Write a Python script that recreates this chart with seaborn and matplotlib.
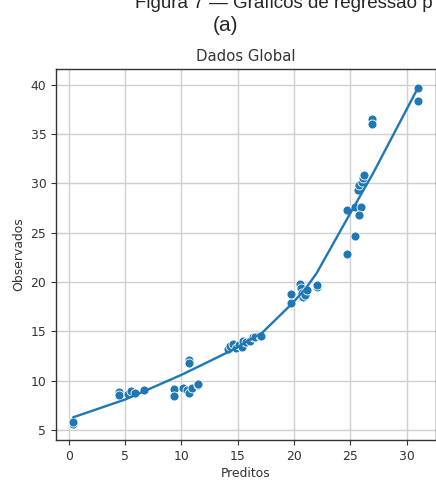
import matplotlib
matplotlib.use("Agg")
import pandas as pd
import seaborn as sns
from matplotlib import pyplot as plt

# scatter points
preditos = [
    0.4, 0.4,
    4.5, 4.5, 5.3, 5.5, 5.9, 6.7,
    9.3, 9.3, 10.1, 10.5, 10.7, 10.9, 10.7, 10.7, 11.5, 11.5,
    14.1, 14.3, 14.6, 14.85, 15.1, 15.4, 15.5, 15.7, 16.1, 16.4, 16.5, 17.0, 17.1,
    19.7, 19.7, 20.5, 20.6, 20.7, 20.8, 20.9, 21.0, 21.15, 22.0, 22.0,
    24.7, 25.4, 24.7, 25.4, 25.9, 25.8, 25.7, 25.8, 26.0, 26.1, 26.2,
    26.9, 26.9, 31.0, 31.0,
]
observados = [
    5.6, 5.8,
    8.9, 8.6, 8.7, 9.0, 8.8, 9.1,
    9.2, 8.5, 9.3, 9.1, 8.8, 9.3, 12.1, 11.8, 9.6, 9.7,
    13.2, 13.5, 13.7, 13.3, 13.6, 13.4, 14.0, 13.9, 14.0, 14.4, 14.4, 14.5, 14.5,
    17.9, 18.8, 19.85, 19.4, 18.9, 18.5, 18.8, 18.7, 19.2, 19.5, 19.7,
    22.8, 24.7, 27.3, 27.6, 27.6, 26.8, 29.3, 29.8, 30.1, 30.6, 30.9,
    36.5, 36.0, 39.65, 38.4,
]

# fitted curve
curva_x = [0.4, 5.0, 10.0, 14.5, 17.2, 19.8, 21.0, 22.0, 25.0, 27.0, 31.0]
curva_y = [6.3, 8.1, 10.6, 13.1, 14.9, 17.8, 19.3, 20.9, 27.0, 31.0, 39.7]

x_ticks = [0, 5, 10, 15, 20, 25, 30]
y_ticks = [5, 10, 15, 20, 25, 30, 35, 40]

df = pd.DataFrame({"Preditos": preditos, "Observados": observados})
curva = pd.DataFrame({"Preditos": curva_x, "Observados": curva_y})

sns.set_style("ticks")
plt.rcParams["font.family"] = ["DejaVu Sans"]

fig = plt.figure(figsize=(4.36, 4.82), dpi=100)
ax = fig.add_axes([56 / 436, 1 - 440 / 482, 380 / 436, 371 / 482])

sns.scatterplot(data=df, x="Preditos", y="Observados", ax=ax, s=42,
                color="#1f77b4", edgecolor="white", linewidth=0.6, zorder=3)
sns.lineplot(data=curva, x="Preditos", y="Observados", ax=ax,
             color="#1f77b4", linewidth=1.7, zorder=4)

ax.set_xlim(-1.13, 32.6)
ax.set_ylim(4.0, 41.6)
ax.set_xticks(x_ticks)
ax.set_yticks(y_ticks)
ax.grid(True, color="#cfcfcf", linewidth=1.0)
ax.set_axisbelow(True)
for side in ["top", "right", "left", "bottom"]:
    ax.spines[side].set_visible(True)
    ax.spines[side].set_color("#333333")
    ax.spines[side].set_linewidth(1.0)
ax.tick_params(labelsize=8.9, colors="#333333", length=3.5)
ax.set_xlabel("Preditos", fontsize=8.9, color="#333333", labelpad=3)
ax.set_ylabel("Observados", fontsize=8.9, color="#333333", labelpad=4)
ax.set_title("Dados Global", fontsize=10.7, color="#333333", pad=6)

# page caption above the chart, cut at the top edge as in the reference
fig.text(135 / 436, 1 - 8 / 482, "Figura 7 — Gráficos de regressão p",
         fontsize=13.5, family=["Liberation Sans", "DejaVu Sans"],
         ha="left", va="baseline")
fig.text(225 / 436, 1 - 31 / 482, "(a)", fontsize=15,
         family=["Liberation Sans", "DejaVu Sans"], ha="center", va="baseline")

fig.savefig("out.png", dpi=100)
